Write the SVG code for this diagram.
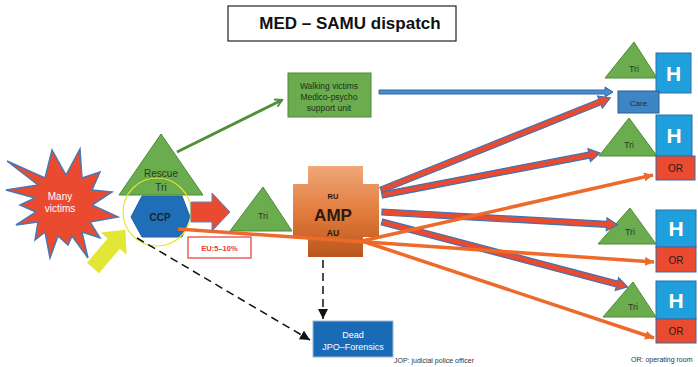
<svg xmlns="http://www.w3.org/2000/svg" width="698" height="367" viewBox="0 0 698 367">
  <defs>
    <linearGradient id="ampGrad" x1="0" y1="0" x2="0" y2="1">
      <stop offset="0" stop-color="#f0a77a"/>
      <stop offset="0.55" stop-color="#e07838"/>
      <stop offset="1" stop-color="#b8561e"/>
    </linearGradient>
    <marker id="mOrange" markerUnits="userSpaceOnUse" markerWidth="10" markerHeight="9" refX="9" refY="4.5" orient="auto">
      <path d="M0,0 L9,4.5 L0,9 z" fill="#ee6a2a"/>
    </marker>
    <marker id="mGreen" markerUnits="userSpaceOnUse" markerWidth="10" markerHeight="10" refX="8" refY="5" orient="auto">
      <path d="M1,1 L8,5 L1,9" fill="none" stroke="#4f8f3a" stroke-width="2"/>
    </marker>
    <marker id="mBlack" markerUnits="userSpaceOnUse" markerWidth="11" markerHeight="10" refX="10" refY="5" orient="auto">
      <path d="M0,0 L10,5 L0,10 z" fill="#111"/>
    </marker>
  </defs>
  <style>
    text { font-family: "Liberation Sans", Arial, sans-serif; text-anchor: middle; }
    .tri { fill: #6aac4e; stroke: #4e8a38; stroke-width: 1; }
    .triText { font-size: 9px; fill: #2b3a22; }
    .hbox { fill: #1fa0dd; stroke: #2f6ea3; stroke-width: 1; }
    .hText { font-size: 21px; font-weight: bold; fill: #ffffff; }
    .orbox { fill: #ea4a2f; stroke: #3a6aa0; stroke-width: 1; }
    .orText { font-size: 10px; fill: #222; }
    .redArrow { fill: #ea4a2f; stroke: #3f74b4; stroke-width: 1.2; stroke-linejoin: miter; }
    .orange { stroke: #ee6a2a; stroke-width: 3.5; fill: none; }
    .dash { stroke: #111; stroke-width: 1.5; stroke-dasharray: 8 5; fill: none; }
    .note { font-size: 7px; fill: #333; text-anchor: start; }
  </style>

  <!-- title -->
  <g id="title">
    <rect x="228" y="6" width="228" height="35" fill="#fff" stroke="#222" stroke-width="1.2"/>
    <text x="350" y="29" font-size="17" font-weight="bold" fill="#111">MED – SAMU dispatch</text>
  </g>

  <!-- victims -->
  <g id="victims">
    <polygon points="80,149 82,178 100,172 92,190 112,192 92,205 118,217 90,222 100,238 82,232 88,258 72,236 68,245 58,236 50,258 45,232 35,240 38,222 16,225 36,212 20,205 35,198 6,190 38,185 7,161 45,178 52,150 66,175" fill="#ea4a2f" stroke="#4a78b0" stroke-width="1.5" stroke-linejoin="miter"/>
    <text x="60" y="200" font-size="10" fill="#fff">Many</text>
    <text x="60" y="212" font-size="10" fill="#fff">victims</text>
  </g>

  <!-- rescue triage -->
  <g id="rescue-tri">
    <polygon class="tri" points="161,134 203,195 119,195"/>
    <text x="161" y="177" font-size="10" fill="#2b3a22">Rescue</text>
    <text x="161" y="191" font-size="10" fill="#2b3a22">Tri</text>
  </g>

  <!-- casualty collection point -->
  <g id="ccp">
    <polygon points="131,217 142,196 182,196 190,217 182,237 142,237" fill="#1f6fb8" stroke="#2a5f98" stroke-width="1"/>
    <text x="160" y="221" font-size="10" font-weight="bold" fill="#1a2230">CCP</text>
    <ellipse cx="157" cy="212" rx="34" ry="34" fill="none" stroke="#e6e62e" stroke-width="1.2"/>
  </g>

  <!-- walking victims -->
  <g id="walking">
    <rect x="288" y="73" width="83" height="44" fill="#6aac4e" stroke="#4e8a38" stroke-width="1"/>
    <text x="329" y="89" font-size="8.5" fill="#233018">Walking victims</text>
    <text x="329" y="100" font-size="8.5" fill="#233018">Medico-psycho</text>
    <text x="329" y="111" font-size="8.5" fill="#233018">support unit</text>
  </g>

  <!-- triage before AMP -->
  <g id="tri-mid">
    <polygon class="tri" points="263,187 292,231 230,231"/>
    <text class="triText" x="263" y="219">Tri</text>
  </g>

  <!-- EU label -->
  <g id="eu">
    <rect x="188" y="237" width="63" height="21" fill="#fff" stroke="#e53935" stroke-width="1.2"/>
    <text x="219.5" y="250.5" font-size="7.5" font-weight="bold" fill="#e53935">EU:5–10%</text>
  </g>

  <!-- advanced medical post -->
  <g id="amp">
    <path d="M308,166 H363 V184 H379 V237 H363 V257 H308 V237 H293 V184 H308 Z" fill="url(#ampGrad)"/>
    <text x="333" y="199" font-size="7.5" font-weight="bold" fill="#2a1a10">RU</text>
    <text x="333" y="221" font-size="17" font-weight="bold" fill="#2a1a10">AMP</text>
    <text x="333" y="236" font-size="8.5" font-weight="bold" fill="#2a1a10">AU</text>
  </g>

  <!-- dead -->
  <g id="dead">
    <rect x="313" y="321" width="80" height="36" fill="#1a6bb5" stroke="#9fb8d4" stroke-width="1"/>
    <text x="353" y="338" font-size="9" fill="#fff">Dead</text>
    <text x="353" y="350" font-size="9" fill="#fff">JPO–Forensics</text>
  </g>

  <!-- hospital 1 -->
  <g id="hospital-1">
    <polygon class="tri" points="634,42 657,78 605,78"/>
    <text class="triText" x="634" y="72">Tri</text>
    <rect class="hbox" x="656" y="53" width="35" height="40"/>
    <text class="hText" x="673.5" y="81">H</text>
    <rect x="618" y="91" width="41" height="22" fill="#3e85c6" stroke="#2b5f90" stroke-width="1"/>
    <text x="638.5" y="105.5" font-size="8" fill="#1d2a3a">Care</text>
  </g>

  <!-- hospital 2 -->
  <g id="hospital-2">
    <polygon class="tri" points="629,118 657,156 599,156"/>
    <text class="triText" x="629" y="148">Tri</text>
    <rect class="hbox" x="656" y="115" width="36" height="41"/>
    <text class="hText" x="674" y="143">H</text>
    <rect class="orbox" x="656" y="156" width="39" height="24"/>
    <text class="orText" x="675.5" y="172">OR</text>
  </g>

  <!-- hospital 3 -->
  <g id="hospital-3">
    <polygon class="tri" points="630,208 656,244 598,244"/>
    <text class="triText" x="630" y="235">Tri</text>
    <rect class="hbox" x="656" y="210" width="40" height="37"/>
    <text class="hText" x="676" y="236">H</text>
    <rect class="orbox" x="656" y="247" width="40" height="25"/>
    <text class="orText" x="676" y="263.5">OR</text>
  </g>

  <!-- hospital 4 -->
  <g id="hospital-4">
    <polygon class="tri" points="633,282 656,317 603,317"/>
    <text class="triText" x="633" y="310">Tri</text>
    <rect class="hbox" x="656" y="281" width="40" height="38"/>
    <text class="hText" x="676" y="308">H</text>
    <rect class="orbox" x="656" y="319" width="40" height="24"/>
    <text class="orText" x="676" y="335">OR</text>
  </g>

  <!-- connectors (drawn over the nodes they cross) -->
  <g id="connectors">
    <!-- walking victims to care -->
    <polygon transform="translate(379,92)" points="0,-2 226,-2 226,-5 234,0 226,5 226,2 0,2" fill="#4a8ad0" stroke="#2d6aa8" stroke-width="1"/>
    <!-- rescue tri to walking victims -->
    <line x1="177" y1="152" x2="282" y2="100" stroke="#4f8f3a" stroke-width="3" marker-end="url(#mGreen)"/>
    <!-- dashed routes to the dead -->
    <line class="dash" x1="137" y1="238" x2="310" y2="340" marker-end="url(#mBlack)"/>
    <line class="dash" x1="323" y1="260" x2="323" y2="319" marker-end="url(#mBlack)"/>
    <!-- AMP evacuations (red) -->
    <polygon class="redArrow" transform="translate(381,190) rotate(-21.89)" points="0,-3 236,-3 236,-6.5 247,0 236,6.5 236,3 0,3"/>
    <polygon class="redArrow" transform="translate(382,195) rotate(-10.9)" points="0,-3 211,-3 211,-6.5 222,0 211,6.5 211,3 0,3"/>
    <polygon class="redArrow" transform="translate(382,212) rotate(3.15)" points="0,-3 225,-3 225,-6.5 236,0 225,6.5 225,3 0,3"/>
    <polygon class="redArrow" transform="translate(382,222) rotate(14.8)" points="0,-3 243,-3 243,-6.5 254,0 243,6.5 243,3 0,3"/>
    <!-- AMP / CCP direct routes to operating rooms -->
    <line class="orange" x1="178" y1="229" x2="654" y2="262" marker-end="url(#mOrange)"/>
    <line class="orange" x1="362" y1="241" x2="653" y2="175" marker-end="url(#mOrange)"/>
    <line class="orange" x1="362" y1="241" x2="654" y2="338" marker-end="url(#mOrange)"/>
    <!-- CCP to triage -->
    <polygon transform="translate(191,212)" points="0,-10 21,-10 21,-19 39,0 21,19 21,10 0,10" fill="#ea4a2f" stroke="#5a86c0" stroke-width="1"/>
    <!-- incoming flow -->
    <polygon transform="translate(93,268) rotate(-49.7)" points="0,-8 32,-8 32,-17 50,0 32,17 32,8 0,8" fill="#e2e736"/>
  </g>

  <!-- legends -->
  <text class="note" x="394" y="363">JOP: judicial police officer</text>
  <text class="note" x="631" y="362">OR: operating room</text>
</svg>
